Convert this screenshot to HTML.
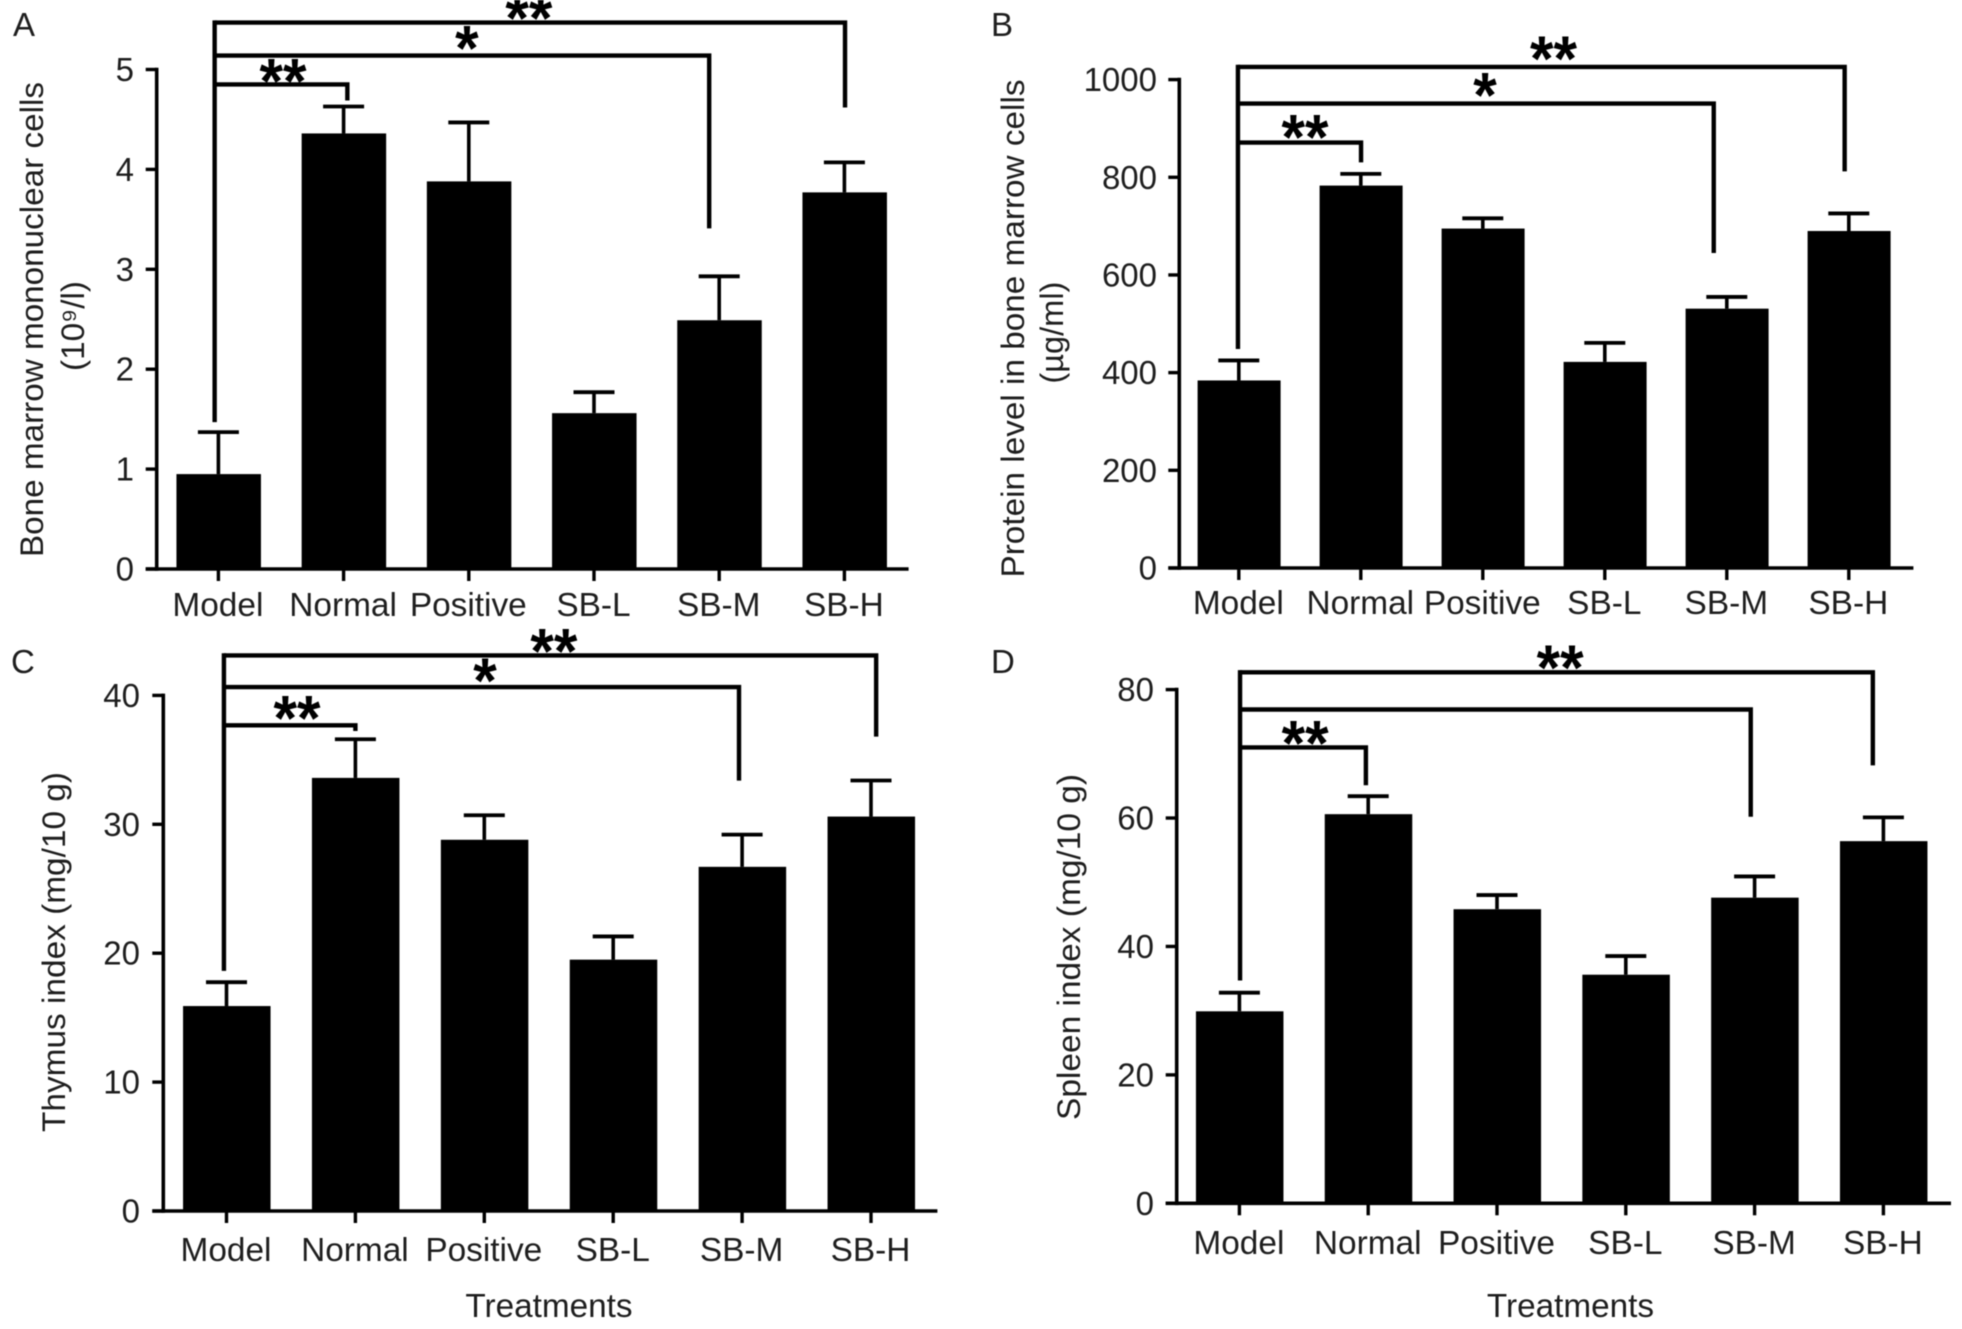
<!DOCTYPE html>
<html lang="en">
<head>
<meta charset="utf-8">
<title>Treatment effects on bone marrow, thymus and spleen</title>
<style>
  html, body { margin: 0; padding: 0; background: #fff; }
  svg { display: block; filter: blur(0.6px); }
  text { font-family: "Liberation Sans", "DejaVu Sans", sans-serif; fill: #1e1e1e; }
</style>
</head>
<body>
<svg id="figure" xmlns="http://www.w3.org/2000/svg" width="1962" height="1329" viewBox="0 0 1962 1329"></svg>
<script>
const categories = ['Model', 'Normal', 'Positive', 'SB-L', 'SB-M', 'SB-H'];

const aTicks = [0, 1, 2, 3, 4, 5];
const aValues = [0.95, 4.36, 3.88, 1.56, 2.49, 3.77];
const aErrorTops = [1.37, 4.63, 4.47, 1.77, 2.93, 4.07];
const aBracketLevels = [5.47, 5.14, 4.85];
const aBracketTargets = [5.005, 3.92, 1.03];
const aBracketEnds = [4.62, 3.41, 4.69];
const aStarMarks = ['**', '*', '**'];
const aStarCats = [2.48, 1.985, 0.516];
const aStarLevels = [5.6, 5.3, 4.97];

const bTicks = [0, 200, 400, 600, 800, 1000];
const bValues = [384, 783, 695, 422, 531, 690];
const bErrorTops = [425, 807, 716, 461, 555, 726];
const bBracketLevels = [1026, 951, 871];
const bBracketTargets = [4.966, 3.893, 1.002];
const bBracketEnds = [812, 645, 830.5];
const bStarMarks = ['**', '*', '**'];
const bStarCats = [2.58, 2.018, 0.543];
const bStarLevels = [1060.6, 985.9, 899.7];

const cTicks = [0, 10, 20, 30, 40];
const cValues = [15.9, 33.6, 28.8, 19.5, 26.7, 30.6];
const cErrorTops = [17.75, 36.6, 30.7, 21.3, 29.2, 33.4];
const cBracketLevels = [43.1, 40.65, 37.68];
const cBracketTargets = [5.04, 3.976, 1.0];
const cBracketEnds = [36.8, 33.39, 37.24];
const cStarMarks = ['**', '*', '**'];
const cStarCats = [2.54, 2.005, 0.547];
const cStarLevels = [44.1, 41.8, 38.9];

const dTicks = [0, 20, 40, 60, 80];
const dValues = [29.9, 60.6, 45.8, 35.6, 47.6, 56.4];
const dErrorTops = [32.8, 63.4, 48, 38.5, 50.9, 60.1];
const dBracketLevels = [82.7, 76.9, 71];
const dBracketTargets = [4.918, 3.97, 0.982];
const dBracketEnds = [68.2, 60.2, 65.1];
const dStarMarks = ['**', '**'];
const dStarCats = [2.49, 0.51];
const dStarLevels = [84.8, 73];

const SVG_NS = 'http://www.w3.org/2000/svg';
const figure = document.getElementById('figure');

function make(parent, tag, attrs, content) {
  const el = document.createElementNS(SVG_NS, tag);
  for (const key in attrs) el.setAttribute(key, attrs[key]);
  if (content !== undefined) el.textContent = content;
  parent.appendChild(el);
  return el;
}

function drawPanel(p) {
  const g = make(figure, 'g', {});
  
  

  const xAt = (c) => p.x0 + c * p.step;
  const yAt = (v) => p.y0 - (v - p.ticks[0]) * (p.y0 - p.yTop) / (p.ticks[p.ticks.length - 1] - p.ticks[0]);
  const black = '#000';
  const seg = (x1, y1, x2, y2, w) => make(g, 'line', { x1: x1, y1: y1, x2: x2, y2: y2, stroke: black, 'stroke-width': w });

  const letter = make(g, 'text', { x: p.letterX, y: p.letterY, 'font-size': 33 }, p.letter);
  
  

  p.values.forEach((v, i) => {
    const bar = make(g, 'rect', { x: xAt(i) - p.barW / 2 + 0.3, y: yAt(v), width: p.barW, height: p.y0 - yAt(v), fill: black });
    
    

    const stem = seg(xAt(i), yAt(v), xAt(i), yAt(p.errorTops[i]), 3.6);
    
    

    const cap = seg(xAt(i) - 20.5, yAt(p.errorTops[i]), xAt(i) + 20.5, yAt(p.errorTops[i]), 3.8);
    
    
  });

  const yAxis = seg(p.axisX, yAt(p.ticks[p.ticks.length - 1]) - 1.8, p.axisX, p.y0 + 1.8, 3.6);
  
  

  const xAxis = seg(p.axisX - 11, p.y0, p.xEnd, p.y0, 3.6);
  
  

  p.ticks.forEach((t) => {
    const mark = seg(p.axisX - 11, yAt(t), p.axisX, yAt(t), 3.4);
    
    

    const label = make(g, 'text', { x: p.tickRight, y: yAt(t) + p.tickDy, 'font-size': 33, 'text-anchor': 'end' }, String(t));
    
    
  });

  categories.forEach((name, i) => {
    const mark = seg(xAt(i), p.y0, xAt(i), p.y0 + 12, 3.4);
    
    

    const label = make(g, 'text', { x: xAt(i) - 0.5, y: p.catY, 'font-size': 33.4, 'text-anchor': 'middle' }, name);
    
    
  });

  p.titles.forEach((t) => {
    const title = make(g, 'text', {
      x: t.x, y: t.cy, 'font-size': 32, 'text-anchor': 'middle',
      transform: 'rotate(-90 ' + t.x + ' ' + t.cy + ')',
      textLength: t.len, lengthAdjust: 'spacingAndGlyphs'
    }, t.text);
    
    
  });

  if (p.xTitleX) {
    const xTitle = make(g, 'text', { x: p.xTitleX, y: 1317, 'font-size': 33.3, 'text-anchor': 'middle' }, 'Treatments');
    
    
  }

  const spineTop = Math.max(...p.bracketLevels);
  const spine = seg(xAt(p.spineCat), yAt(p.spineBottom), xAt(p.spineCat), yAt(spineTop) - 2.2, 4.4);
  
  

  p.bracketLevels.forEach((level, i) => {
    const target = xAt(p.bracketTargets[i]);
    const run = make(g, 'polyline', {
      points: xAt(p.spineCat) + ',' + yAt(level) + ' ' + target + ',' + yAt(level) + ' ' + target + ',' + yAt(p.bracketEnds[i]),
      fill: 'none', stroke: black, 'stroke-width': 4.4
    });
    
    
  });

  p.starMarks.forEach((mark, i) => {
    const star = make(g, 'text', {
      x: xAt(p.starCats[i]), y: yAt(p.starLevels[i]) + 30.5,
      'font-size': 64, 'font-weight': 'bold', 'text-anchor': 'middle',
      textLength: mark.length * 23.5, lengthAdjust: 'spacingAndGlyphs'
    }, mark);
    star.style.fill = '#000';
    
    
  });
}

drawPanel({
  letter: 'A', letterX: 13, letterY: 36,
  ticks: aTicks, values: aValues, errorTops: aErrorTops,
  bracketLevels: aBracketLevels, bracketTargets: aBracketTargets, bracketEnds: aBracketEnds,
  starMarks: aStarMarks, starCats: aStarCats, starLevels: aStarLevels,
  spineCat: -0.03, spineBottom: 1.47,
  x0: 218.4, step: 125.2, barW: 84.5, y0: 569, yTop: 69.5,
  axisX: 156.7, xEnd: 908.6, tickRight: 134, tickDy: 11.5, catY: 616,
  titles: [
    { text: 'Bone marrow mononuclear cells', x: 43, cy: 319.5, len: 475 },
    { text: '(10\u2079/l)', x: 84, cy: 326, len: 90 }
  ]
});

drawPanel({
  letter: 'B', letterX: 991, letterY: 36,
  ticks: bTicks, values: bValues, errorTops: bErrorTops,
  bracketLevels: bBracketLevels, bracketTargets: bBracketTargets, bracketEnds: bBracketEnds,
  starMarks: bStarMarks, starCats: bStarCats, starLevels: bStarLevels,
  spineCat: -0.007, spineBottom: 448.4,
  x0: 1238.8, step: 122, barW: 83, y0: 568, yTop: 79.6,
  axisX: 1179.3, xEnd: 1913.4, tickRight: 1157, tickDy: 11.5, catY: 614,
  titles: [
    { text: 'Protein level in bone marrow cells', x: 1024, cy: 328.5, len: 498 },
    { text: '(\u00b5g/ml)', x: 1063, cy: 332.6, len: 102 }
  ]
});

drawPanel({
  letter: 'C', letterX: 11, letterY: 673,
  ticks: cTicks, values: cValues, errorTops: cErrorTops,
  bracketLevels: cBracketLevels, bracketTargets: cBracketTargets, bracketEnds: cBracketEnds,
  starMarks: cStarMarks, starCats: cStarCats, starLevels: cStarLevels,
  spineCat: -0.02, spineBottom: 18.63,
  x0: 226.5, step: 128.9, barW: 87.5, y0: 1211, yTop: 695.4,
  axisX: 163.3, xEnd: 937.4, tickRight: 140, tickDy: 11.5, catY: 1261,
  xTitleX: 549,
  titles: [
    { text: 'Thymus index (mg/10 g)', x: 65, cy: 952, len: 360 }
  ]
});

drawPanel({
  letter: 'D', letterX: 991, letterY: 673,
  ticks: dTicks, values: dValues, errorTops: dErrorTops,
  bracketLevels: dBracketLevels, bracketTargets: dBracketTargets, bracketEnds: dBracketEnds,
  starMarks: dStarMarks, starCats: dStarCats, starLevels: dStarLevels,
  spineCat: 0.005, spineBottom: 34.7,
  x0: 1239.4, step: 128.8, barW: 87.5, y0: 1203.3, yTop: 689.6,
  axisX: 1176.7, xEnd: 1951, tickRight: 1154, tickDy: 11.5, catY: 1254,
  xTitleX: 1570.5,
  titles: [
    { text: 'Spleen index (mg/10 g)', x: 1080, cy: 947, len: 346 }
  ]
});
</script>
</body>
</html>
